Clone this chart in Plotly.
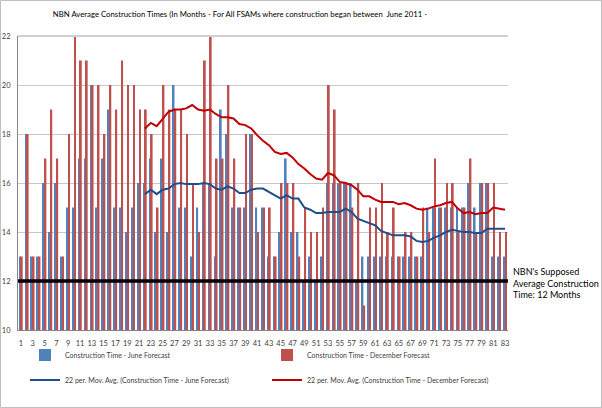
import plotly.graph_objects as go
import pandas as pd

categories = list(range(1, 84))

june = [13, 18, 13, 13, 16, 14, 16, 13, 15, 15,
        17, 17, 20, 15, 17, 19, 15, 15, 14, 15,
        16, 16, 17, 14, 17, 14, 20, 15, 15, 13,
        15, 16, 16, 13, 19, 18, 15, 15, 15, 18,
        15, 15, 13, 13, 14, 17, 14, 14, 12, 13,
        12, 13, 16, 16, 16, 16, 16, 12, 13, 13,
        13, 13, 13, 13, 13, 13, 13, 13, 13, 15,
        15, 15, 15, 15, 15, 15, 16, 15, 16, 16,
        13, 13, 13]

december = [13, 18, 13, 13, 17, 19, 17, 13, 18, 22,
            21, 21, 20, 20, 18, 20, 19, 21, 20, 20,
            19, 19, 18, 15, 20, 19, 19, 19, 18, 16,
            14, 21, 22, 17, 17, 20, 17, 15, 18, 18,
            14, 15, 15, 13, 16, 16, 16, 13, 15, 14,
            14, 15, 20, 19, 16, 16, 15, 16, 11, 15,
            15, 16, 14, 15, 13, 14, 14, 13, 15, 14,
            17, 15, 16, 16, 14, 15, 17, 14, 16, 16,
            16, 14, 14]

ma_period = 22
target_value = 12

y_ticks = [10, 12, 14, 16, 18, 20, 22]
x_ticks = list(range(1, 84, 2))

june_ma = pd.Series(june).rolling(ma_period).mean()
dec_ma = pd.Series(december).rolling(ma_period).mean()

font = "Lato, sans-serif"

PL, PR, PT, PB = 18, 508, 36, 330
PW, PH = PR - PL, PB - PT


def px_x(x):
    return (x - PL) / PW


def px_y(y):
    return (PB - y) / PH


fig = go.Figure()
fig.add_trace(go.Bar(x=categories, y=june, name="Construction Time - June Forecast",
                     marker=dict(color="#4F81BD", line=dict(width=0)), legend="legend"))
fig.add_trace(go.Bar(x=categories, y=december, name="Construction Time - December Forecast",
                     marker=dict(color="#C0504D", line=dict(width=0)), legend="legend2"))
fig.add_trace(go.Scatter(x=categories, y=june_ma, mode="lines",
                         name="22 per. Mov. Avg. (Construction Time - June Forecast)",
                         line=dict(color="#1F4E8C", width=2), legend="legend3"))
fig.add_trace(go.Scatter(x=categories, y=dec_ma, mode="lines",
                         name="22 per. Mov. Avg. (Construction Time - December Forecast)",
                         line=dict(color="#C00000", width=2), legend="legend4"))

# target line at 12
fig.add_shape(type="line", xref="paper", x0=0, x1=1, yref="y", y0=target_value, y1=target_value,
              line=dict(color="black", width=3.5))

# top border of plot (slightly heavier gridline at 22)
fig.add_shape(type="line", xref="paper", x0=0, x1=1, yref="paper", y0=1, y1=1,
              line=dict(color="#D0D0D0", width=2))

# outer border
fig.add_shape(type="rect", xref="paper", yref="paper",
              x0=px_x(0.5), x1=px_x(601.5), y0=px_y(407.5), y1=px_y(0.5),
              line=dict(color="#BFBFBF", width=1))

fig.add_annotation(text="NBN's Supposed<br>Average Construction<br>Time: 12 Months",
                   xref="paper", yref="paper", x=px_x(511), y=px_y(283),
                   xanchor="left", yanchor="middle", align="left", showarrow=False,
                   font=dict(family=font, size=9, color="#000000"))

leg_common = dict(orientation="v", xanchor="left", yanchor="middle",
                  bgcolor="rgba(0,0,0,0)", borderwidth=0,
                  font=dict(family=font, size=7, color="#404040"))

fig.update_layout(
    width=602, height=408,
    margin=dict(l=PL, r=602 - PR, t=PT, b=408 - PB, autoexpand=False),
    paper_bgcolor="white", plot_bgcolor="white",
    title=dict(text="NBN Average Construction Times (In Months - For All FSAMs where construction began between  June 2011 -",
               x=240 / 602, xanchor="center", y=1 - 14 / 408, yanchor="middle",
               font=dict(family=font, size=7.75, color="#000000")),
    barmode="group", bargap=0.4, bargroupgap=0.0,
    font=dict(family=font, size=7.5, color="#404040"),
    showlegend=True,
    legend=dict(x=px_x(25), y=px_y(355), **leg_common),
    legend2=dict(x=px_x(267), y=px_y(355), **leg_common),
    legend3=dict(x=px_x(25), y=px_y(380), **leg_common),
    legend4=dict(x=px_x(267), y=px_y(380), **leg_common),
    xaxis=dict(range=[0.5, 83.5], tickmode="array", tickvals=x_ticks,
               ticktext=[str(v) for v in x_ticks], showgrid=False,
               showline=True, linecolor="#868686", linewidth=1,
               ticks="", ticklabelstandoff=6,
               tickfont=dict(family=font, size=7.5, color="#404040"),
               tickangle=0, zeroline=False, automargin=False),
    yaxis=dict(range=[10, 22], tickmode="array", tickvals=y_ticks,
               showgrid=True, gridcolor="#C8C8C8", gridwidth=1,
               showline=True, linecolor="#868686", linewidth=1,
               ticks="", ticklabelstandoff=5,
               tickfont=dict(family=font, size=7.5, color="#404040"), zeroline=False,
               automargin=False),
)

fig.write_html("out.html", config={"displayModeBar": False},
               post_script="document.body.style.margin='0';document.body.style.overflow='hidden';")
